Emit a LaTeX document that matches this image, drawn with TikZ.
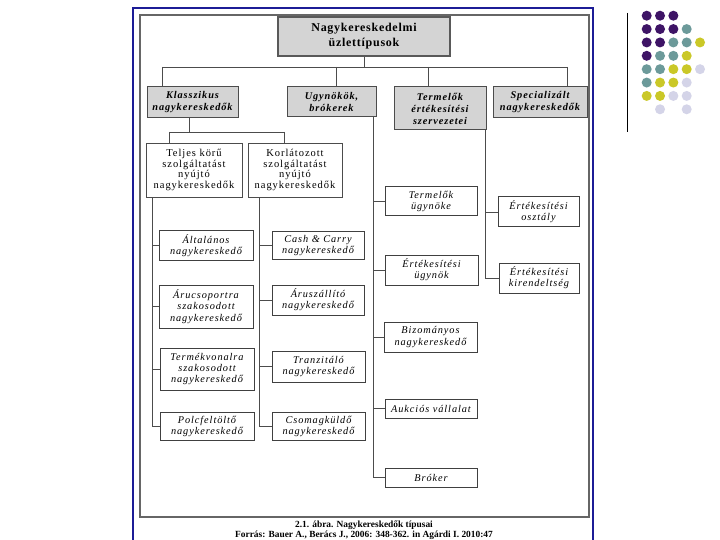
\documentclass[tikz,border=0pt]{standalone}
\usepackage{fontspec}
\setmainfont{Liberation Serif}
\newfontfamily\dgfont[LetterSpace=6]{Liberation Serif}
\newfontfamily\dgwide[LetterSpace=9]{Liberation Serif}
\definecolor{frameblue}{RGB}{28,28,150}
\definecolor{cP}{RGB}{62,20,102}
\definecolor{cT}{RGB}{108,154,154}
\definecolor{cY}{RGB}{202,200,40}
\definecolor{cL}{RGB}{212,212,232}
\tikzset{
  conn/.style={draw=black!70, line width=0.7pt},
  titlebox/.style={draw=black!65, line width=1.8pt, fill=black!17, inner sep=0pt, align=center,
    font=\dgfont\fontsize{12}{15}\selectfont\bfseries},
  catbox/.style={draw=black!70, line width=1pt, fill=black!17, inner sep=0pt, align=center,
    font=\dgwide\fontsize{10.3}{12}\selectfont\bfseries\itshape},
  subbox/.style={draw=black!70, line width=0.9pt, fill=white, inner sep=0pt, align=center,
    font=\dgwide\fontsize{10.5}{10.8}\selectfont},
  leafbox/.style={draw=black!75, line width=1pt, fill=white, inner sep=0pt, align=center,
    font=\dgwide\fontsize{10.3}{11.3}\selectfont\itshape},
  capt/.style={inner sep=0pt, font=\fontsize{9.4}{10}\selectfont\bfseries}
}
\begin{document}
\begin{tikzpicture}[x=1pt,y=-1pt]
\useasboundingbox (0,0) rectangle (720,540);
\fill[white] (0,0) rectangle (720,540);
% frames
\draw[frameblue, line width=2.5pt] (133,545) -- (133,8) -- (593,8) -- (593,545);
\draw[black!60, line width=1.2pt] (140,15) rectangle (589,517);
% decoration at right
\draw[black, line width=1pt] (627,13) -- (627,132);
\foreach \r/\c/\k in {1/1/P,1/2/P,1/3/P,
  2/1/P,2/2/P,2/3/P,2/4/T,
  3/1/P,3/2/P,3/3/T,3/4/T,3/5/Y,
  4/1/P,4/2/T,4/3/T,4/4/Y,
  5/1/T,5/2/T,5/3/Y,5/4/Y,5/5/L,
  6/1/T,6/2/Y,6/3/Y,6/4/L,
  7/1/Y,7/2/Y,7/3/L,7/4/L,
  8/2/L,8/4/L}
  \fill[c\k] ({633.37+13.33*\c},{2.33+13.37*\r}) circle (5pt);

% title
\node[titlebox, minimum width=172pt, minimum height=39pt] (title) at (364,36.5) {Nagykereskedelmi\\üzlettípusok};
% categories
\node[catbox, minimum width=91pt, minimum height=31pt] (kl) at (192.5,102.5) {Klasszikus\\nagykereskedők};
\node[catbox, minimum width=89pt, minimum height=30pt] (ug) at (331.5,102) {Ugynökök,\\brókerek};
\node[catbox, minimum width=92pt, minimum height=43pt] (te) at (440,108.5) {Termelők\\értékesítési\\szervezetei};
\node[catbox, minimum width=94pt, minimum height=31pt] (sp) at (540,102.5) {Specializált\\nagykereskedők};
% sub categories
\node[subbox, minimum width=96pt, minimum height=54pt] (tel) at (194,170) {Teljes körű\\szolgáltatást\\nyújtó\\nagykereskedők};
\node[subbox, minimum width=94pt, minimum height=54pt] (kor) at (295,170) {Korlátozott\\szolgáltatást\\nyújtó\\nagykereskedők};
% left leaves
\node[leafbox, minimum width=94pt, minimum height=29pt] (alt) at (206,245.5) {Általános\\nagykereskedő};
\node[leafbox, minimum width=94pt, minimum height=43pt] (aru) at (206,306.5) {Árucsoportra\\szakosodott\\nagykereskedő};
\node[leafbox, minimum width=94pt, minimum height=42pt] (tkv) at (207,369) {Termékvonalra\\szakosodott\\nagykereskedő};
\node[leafbox, minimum width=94pt, minimum height=28pt] (pol) at (207,426.5) {Polcfeltöltő\\nagykereskedő};
% right leaves
\node[leafbox, minimum width=92pt, minimum height=28pt] (cc) at (318,245.5) {Cash \& Carry\\nagykereskedő};
\node[leafbox, minimum width=92pt, minimum height=30pt] (asz) at (318,300) {Áruszállító\\nagykereskedő};
\node[leafbox, minimum width=93pt, minimum height=31pt] (tra) at (318.5,366.5) {Tranzitáló\\nagykereskedő};
\node[leafbox, minimum width=93pt, minimum height=28pt] (cso) at (318.5,426.5) {Csomagküldő\\nagykereskedő};
% agents column
\node[leafbox, minimum width=92pt, minimum height=29pt] (tu) at (431,201.5) {Termelők\\ügynöke};
\node[leafbox, minimum width=93pt, minimum height=30pt] (eu) at (431.5,270) {Értékesítési\\ügynök};
\node[leafbox, minimum width=93pt, minimum height=30pt] (biz) at (430.5,337) {Bizományos\\nagykereskedő};
\node[leafbox, minimum width=92pt, minimum height=19pt] (auk) at (431,408.5) {Aukciós vállalat};
\node[leafbox, minimum width=92pt, minimum height=19pt] (bro) at (431,477.5) {Bróker};
% producers column
\node[leafbox, minimum width=81pt, minimum height=30pt] (eo) at (538.5,212) {Értékesítési\\osztály};
\node[leafbox, minimum width=80pt, minimum height=30pt] (ek) at (539,278) {Értékesítési\\kirendeltség};

% connectors: top level
\coordinate (bL) at (162,67);
\coordinate (bU) at (336,67);
\coordinate (bT) at (428,67);
\coordinate (bS) at (567,67);
\draw[conn] (title.south) -- (title.south |- bL);
\draw[conn] (bL) -- (bS);
\draw[conn] (bL) -- (bL |- kl.north);
\draw[conn] (bU) -- (bU |- ug.north);
\draw[conn] (bT) -- (bT |- te.north);
\draw[conn] (bS) -- (bS |- sp.north);
% klasszikus split
\coordinate (kj) at (189,132);
\coordinate (kjL) at (169,132);
\coordinate (kjR) at (284,132);
\draw[conn] (kj |- kl.south) -- (kj);
\draw[conn] (kjL) -- (kjR);
\draw[conn] (kjL) -- (kjL |- tel.north);
\draw[conn] (kjR) -- (kjR |- kor.north);
% trunks
\coordinate (lt) at (152,0);
\coordinate (rt) at (259,0);
\coordinate (ut) at (373,0);
\coordinate (tt) at (485,0);
\draw[conn] (lt |- tel.south) |- (pol.west);
\foreach \n in {alt,aru,tkv} \draw[conn] (\n.west) -- (\n.west -| lt);
\draw[conn] (rt |- kor.south) |- (cso.west);
\foreach \n in {cc,asz,tra} \draw[conn] (\n.west) -- (\n.west -| rt);
\draw[conn] (ut |- ug.south) |- (bro.west);
\foreach \n in {tu,eu,biz,auk} \draw[conn] (\n.west) -- (\n.west -| ut);
\draw[conn] (tt |- te.south) |- (ek.west);
\draw[conn] (eo.west) -- (eo.west -| tt);

% caption
\node[capt] (cap1) at (364,525.5) {2.1. ábra. Nagykereskedők típusai};
\node[capt] (cap2) at (364,535) {Forrás: Bauer A., Berács J., 2006: 348-362. in Agárdi I. 2010:47};
\end{tikzpicture}
\end{document}
